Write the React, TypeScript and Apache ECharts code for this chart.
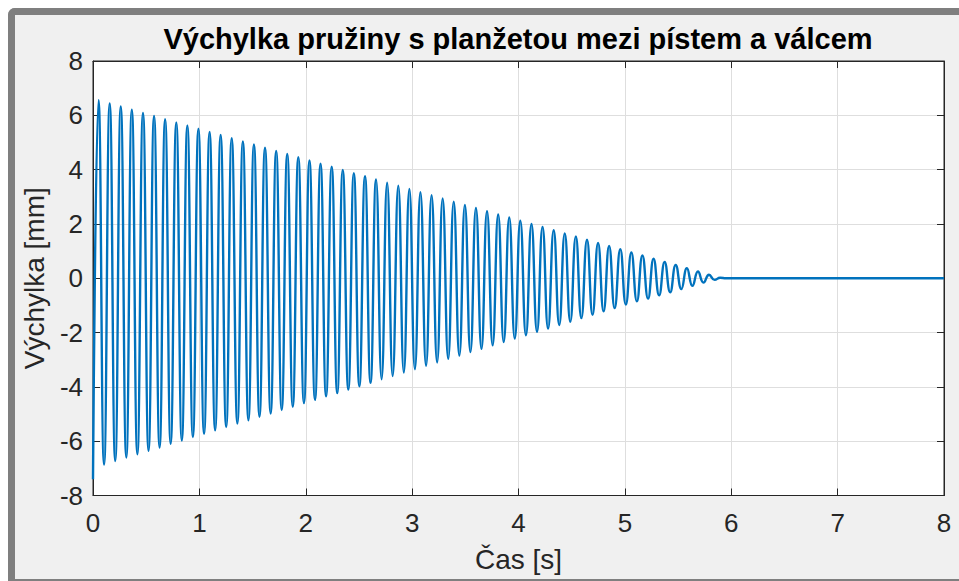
import React, { useEffect, useRef } from "react";
import * as echarts from "echarts";

const titleText = "Výchylka pružiny s planžetou mezi pístem a válcem";
const xAxisName = "Čas [s]";
const yAxisName = "Výchylka [mm]";
const xTickLabels = [0, 1, 2, 3, 4, 5, 6, 7, 8];
const yTickLabels = [-8, -6, -4, -2, 0, 2, 4, 6, 8];

// times [s] of the extrema of the oscillation, then the flat tail
const extremaTimes = [
  0.0, 0.052, 0.104, 0.157, 0.209, 0.261, 0.313, 0.365, 0.417, 0.47,
  0.522, 0.574, 0.626, 0.678, 0.73, 0.783, 0.835, 0.887, 0.939, 0.991,
  1.044, 1.096, 1.148, 1.2, 1.252, 1.304, 1.357, 1.409, 1.461, 1.513,
  1.565, 1.617, 1.67, 1.722, 1.774, 1.826, 1.878, 1.93, 1.983, 2.035,
  2.087, 2.139, 2.191, 2.244, 2.296, 2.348, 2.4, 2.452, 2.504, 2.557,
  2.609, 2.661, 2.713, 2.765, 2.817, 2.87, 2.922, 2.974, 3.026, 3.078,
  3.131, 3.183, 3.235, 3.287, 3.339, 3.391, 3.444, 3.496, 3.548, 3.6,
  3.652, 3.704, 3.757, 3.809, 3.861, 3.913, 3.965, 4.017, 4.07, 4.122,
  4.174, 4.226, 4.278, 4.331, 4.383, 4.435, 4.487, 4.539, 4.591, 4.644,
  4.696, 4.748, 4.8, 4.852, 4.904, 4.957, 5.009, 5.061, 5.113, 5.165,
  5.218, 5.27, 5.322, 5.374, 5.426, 5.478, 5.531, 5.583, 5.635, 5.687,
  5.739, 5.791, 5.844, 5.896, 5.95, 8.0,
];

// displacement [mm] at those times
const extremaValues = [
  -7.4, 6.56, -6.86, 6.44, -6.73, 6.33, -6.6, 6.21, -6.48, 6.09,
  -6.35, 5.98, -6.23, 5.86, -6.1, 5.74, -5.98, 5.63, -5.85, 5.51,
  -5.73, 5.39, -5.6, 5.28, -5.48, 5.16, -5.35, 5.04, -5.23, 4.93,
  -5.1, 4.81, -4.98, 4.69, -4.85, 4.58, -4.73, 4.46, -4.6, 4.34,
  -4.48, 4.22, -4.35, 4.11, -4.23, 3.99, -4.1, 3.87, -3.98, 3.76,
  -3.85, 3.64, -3.72, 3.52, -3.6, 3.41, -3.47, 3.29, -3.35, 3.17,
  -3.22, 3.06, -3.1, 2.94, -2.97, 2.82, -2.85, 2.7, -2.72, 2.59,
  -2.6, 2.47, -2.47, 2.35, -2.35, 2.24, -2.22, 2.12, -2.1, 2.0,
  -1.97, 1.89, -1.85, 1.77, -1.72, 1.65, -1.6, 1.54, -1.47, 1.42,
  -1.35, 1.3, -1.22, 1.19, -1.1, 1.07, -0.97, 0.95, -0.85, 0.84,
  -0.75, 0.72, -0.63, 0.6, -0.52, 0.49, -0.4, 0.37, -0.28, 0.25,
  -0.16, 0.13, -0.06, 0.02, 0.0, 0.0,
];

const FONT = "'Liberation Sans', Arial, Helvetica, sans-serif";

export default function App() {
  const ref = useRef<HTMLDivElement>(null);

  useEffect(() => {
    if (!ref.current) return;
    const chart = echarts.init(ref.current, undefined, { renderer: "svg" });
    const data = extremaTimes.map((t, i) => [t, extremaValues[i]]);
    const axisColor = "#262626";
    const gridColor = "#dedede";
    const xMin = xTickLabels[0];
    const xMax = xTickLabels[xTickLabels.length - 1];
    const yMin = yTickLabels[0];
    const yMax = yTickLabels[yTickLabels.length - 1];

    const boxAxis = {
      axisLine: { show: true, onZero: false, lineStyle: { color: axisColor, width: 1 } },
      axisTick: { show: true, inside: true, length: 7, lineStyle: { color: axisColor } },
    };

    chart.setOption({
      animation: false,
      backgroundColor: "transparent",
      title: {
        text: titleText,
        left: 518,
        top: 24,
        textAlign: "center",
        padding: 0,
        textStyle: { fontFamily: FONT, fontSize: 29, fontWeight: "bold", color: "#000" },
      },
      grid: {
        left: 93,
        right: 15,
        top: 61,
        bottom: 85.5,
        show: true,
        backgroundColor: "#ffffff",
        borderColor: axisColor,
        borderWidth: 1,
      },
      xAxis: [
        {
          type: "value",
          min: xMin,
          max: xMax,
          interval: 1,
          position: "bottom",
          name: xAxisName,
          nameLocation: "middle",
          nameGap: 50,
          nameTextStyle: { fontFamily: FONT, fontSize: 28, color: axisColor },
          ...boxAxis,
          axisLabel: { fontFamily: FONT, fontSize: 26, color: axisColor, margin: 14 },
          splitLine: { show: true, lineStyle: { color: gridColor, width: 1 } },
        },
        {
          type: "value",
          min: xMin,
          max: xMax,
          interval: 1,
          position: "top",
          ...boxAxis,
          axisLabel: { show: false },
          splitLine: { show: false },
        },
      ],
      yAxis: [
        {
          type: "value",
          min: yMin,
          max: yMax,
          interval: 2,
          position: "left",
          name: yAxisName,
          nameLocation: "middle",
          nameRotate: 90,
          nameGap: 42,
          nameTextStyle: { fontFamily: FONT, fontSize: 28, color: axisColor },
          ...boxAxis,
          axisLabel: { fontFamily: FONT, fontSize: 26, color: axisColor, margin: 10 },
          splitLine: { show: true, lineStyle: { color: gridColor, width: 1 } },
        },
        {
          type: "value",
          min: yMin,
          max: yMax,
          interval: 2,
          position: "right",
          ...boxAxis,
          axisLabel: { show: false },
          splitLine: { show: false },
        },
      ],
      series: [
        {
          type: "line",
          xAxisIndex: 0,
          yAxisIndex: 0,
          data,
          smooth: true,
          showSymbol: false,
          lineStyle: { color: "#0072BD", width: 2.4 },
          itemStyle: { color: "#0072BD" },
          clip: true,
        },
      ],
    });
    return () => chart.dispose();
  }, []);

  return (
    <div
      style={{
        position: "fixed",
        left: 0,
        top: 0,
        width: 959,
        height: 581,
        overflow: "hidden",
        background: "#ffffff",
      }}
    >
      <div
        style={{
          position: "absolute",
          left: 8,
          top: 8,
          width: 951,
          height: 573,
          boxSizing: "border-box",
          borderLeft: "7px solid #7f7f7f",
          borderTop: "7px solid #7f7f7f",
          borderBottom: "2px solid #7f7f7f",
          borderTopLeftRadius: 7,
          background: "#f0f0f0",
        }}
      />
      <div ref={ref} style={{ position: "absolute", left: 0, top: 0, width: 959, height: 581 }} />
    </div>
  );
}
